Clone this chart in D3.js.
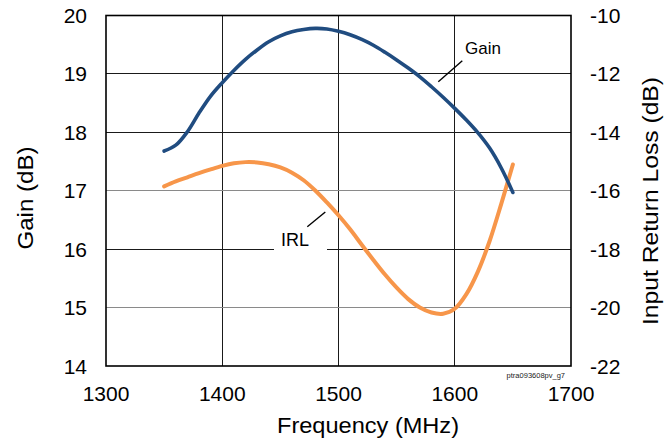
<!DOCTYPE html>
<html>
<head>
    <style>
        body { margin: 0; background: #fff; font-family: "Liberation Sans", Arial, sans-serif; }
        .grid line { shape-rendering: crispEdges; }
    </style>
    <script src="https://d3js.org/d3.v7.min.js"></script>
</head>
<body>
<div id="chart"></div>
<script>
    // data, 10 MHz steps
    const freq = [1350, 1360, 1370, 1380, 1390, 1400, 1410, 1420, 1430, 1440, 1450,
                  1460, 1470, 1480, 1490, 1500, 1510, 1520, 1530, 1540, 1550,
                  1560, 1570, 1580, 1590, 1600, 1610, 1620, 1630, 1640, 1650];
    const gain = [17.68, 17.78, 18.01, 18.33, 18.62, 18.85, 19.06, 19.25, 19.41, 19.55, 19.65,
                  19.72, 19.76, 19.78, 19.77, 19.73, 19.67, 19.59, 19.49, 19.37, 19.24,
                  19.10, 18.95, 18.78, 18.60, 18.41, 18.21, 17.99, 17.73, 17.39, 16.97];
    const irl = [-15.85, -15.68, -15.54, -15.40, -15.27, -15.15, -15.06, -15.02, -15.03, -15.09, -15.20,
                 -15.38, -15.64, -15.99, -16.40, -16.84, -17.32, -17.85, -18.37, -18.87, -19.32,
                 -19.71, -20.00, -20.17, -20.21, -20.04, -19.54, -18.76, -17.72, -16.45, -15.10];

    const xTicks = [1300, 1400, 1500, 1600, 1700];
    const gainTicks = [14, 15, 16, 17, 18, 19, 20];
    const irlTicks = [-22, -20, -18, -16, -14, -12, -10];

    const width = 672, height = 442;
    const margin = {left: 106, right: 101, top: 15.5, bottom: 76};

    const x = d3.scaleLinear().domain([1300, 1700]).range([margin.left, width - margin.right]);
    const yL = d3.scaleLinear().domain([14, 20]).range([height - margin.bottom, margin.top]);
    const yR = d3.scaleLinear().domain([-22, -10]).range([height - margin.bottom, margin.top]);

    const svg = d3.select('#chart').append('svg')
        .attr('width', width)
        .attr('height', height);

    // grid
    const grid = svg.append('g').attr('class', 'grid');
    grid.selectAll('line.v')
        .data(xTicks.slice(1, -1))
        .join('line')
        .attr('x1', d => x(d)).attr('x2', d => x(d))
        .attr('y1', yL(14)).attr('y2', yL(20))
        .attr('stroke', '#1a1a1a').attr('stroke-width', 1);
    grid.selectAll('line.h')
        .data(gainTicks.slice(1, -1))
        .join('line')
        .attr('x1', x(1300)).attr('x2', x(1700))
        .attr('y1', d => yL(d)).attr('y2', d => yL(d))
        .attr('stroke', d => (d === 17 || d === 15) ? '#8a8a8a' : '#1a1a1a')
        .attr('stroke-width', 1);

    // white box behind IRL label (breaks the 16 dB line)
    svg.append('rect')
        .attr('x', 274).attr('y', yL(16) - 3)
        .attr('width', 53).attr('height', 6)
        .attr('fill', '#fff');

    // frame
    svg.append('rect')
        .attr('x', x(1300)).attr('y', yL(20))
        .attr('width', x(1700) - x(1300)).attr('height', yL(14) - yL(20))
        .attr('fill', 'none').attr('stroke', '#000').attr('stroke-width', 1.6);

    // curves
    const gainLine = d3.line()
        .x((d, i) => x(freq[i]))
        .y(d => yL(d))
        .curve(d3.curveCatmullRom);
    const irlLine = d3.line()
        .x((d, i) => x(freq[i]))
        .y(d => yR(d))
        .curve(d3.curveCatmullRom);

    svg.append('path')
        .attr('d', irlLine(irl))
        .attr('fill', 'none')
        .attr('stroke', '#f7964a')
        .attr('stroke-width', 4)
        .attr('stroke-linecap', 'round');

    svg.append('path')
        .attr('d', gainLine(gain))
        .attr('fill', 'none')
        .attr('stroke', '#204c80')
        .attr('stroke-width', 3.6)
        .attr('stroke-linecap', 'round');

    // tick labels
    svg.selectAll('text.xt')
        .data(xTicks)
        .join('text')
        .attr('x', d => x(d)).attr('y', 401)
        .attr('text-anchor', 'middle')
        .attr('font-size', 21)
        .text(d => d);

    svg.selectAll('text.lt')
        .data(gainTicks)
        .join('text')
        .attr('x', 87).attr('y', d => yL(d))
        .attr('dy', '0.36em')
        .attr('text-anchor', 'end')
        .attr('font-size', 21)
        .text(d => d);

    svg.selectAll('text.rt')
        .data(irlTicks)
        .join('text')
        .attr('x', 590).attr('y', d => yR(d))
        .attr('dy', '0.36em')
        .attr('text-anchor', 'start')
        .attr('font-size', 21)
        .text(d => d);

    // axis titles
    svg.append('text')
        .attr('x', 368).attr('y', 433)
        .attr('text-anchor', 'middle')
        .attr('font-size', 22)
        .attr('textLength', 182)
        .attr('lengthAdjust', 'spacingAndGlyphs')
        .text('Frequency (MHz)');

    svg.append('text')
        .attr('transform', 'translate(33,198) rotate(-90)')
        .attr('text-anchor', 'middle')
        .attr('font-size', 22)
        .attr('textLength', 103)
        .attr('lengthAdjust', 'spacingAndGlyphs')
        .text('Gain (dB)');

    svg.append('text')
        .attr('transform', 'translate(658,201) rotate(-90)')
        .attr('text-anchor', 'middle')
        .attr('font-size', 22)
        .attr('textLength', 248)
        .attr('lengthAdjust', 'spacingAndGlyphs')
        .text('Input Return Loss (dB)');

    // curve labels with leaders
    svg.append('line')
        .attr('x1', 438.3).attr('y1', 81.7).attr('x2', 462.3).attr('y2', 60.7)
        .attr('stroke', '#000').attr('stroke-width', 1.4);
    svg.append('text')
        .attr('x', 465).attr('y', 54.3)
        .attr('font-size', 17)
        .text('Gain');

    svg.append('line')
        .attr('x1', 307.3).attr('y1', 226.7).attr('x2', 325.3).attr('y2', 212)
        .attr('stroke', '#000').attr('stroke-width', 1.4);
    svg.append('text')
        .attr('x', 281).attr('y', 245.7)
        .attr('font-size', 18)
        .text('IRL');

    // figure id
    svg.append('text')
        .attr('x', 565).attr('y', 377.7)
        .attr('text-anchor', 'end')
        .attr('font-size', 7.5)
        .attr('fill', '#222')
        .text('ptra093608pv_g7');
</script>
</body>
</html>
